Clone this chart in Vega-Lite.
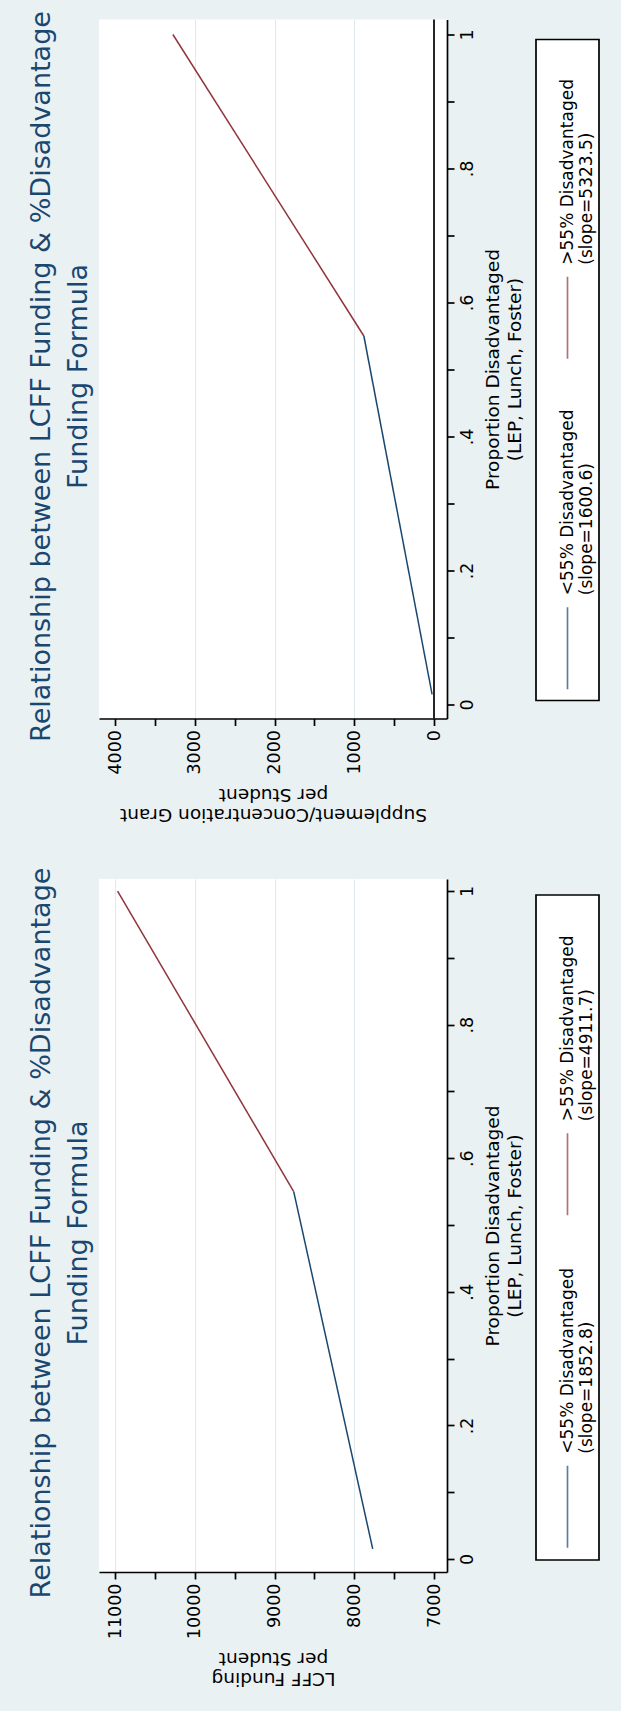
{
  "$schema": "https://vega.github.io/schema/vega-lite/v6.json",
  "background": "#EAF1F3",
  "padding": {"left": 27, "top": 10.5, "right": 21, "bottom": 46},
  "config": {
    "font": "DejaVu Sans",
    "view": {"stroke": null},
    "axis": {
      "labelColor": "black",
      "labelFontSize": 17.5,
      "labelOverlap": false,
      "labelFlush": false,
      "labelBound": false,
      "tickColor": "black",
      "tickWidth": 1.7,
      "tickSize": 7,
      "domainColor": "black",
      "domainWidth": 1.7,
      "titleColor": "black",
      "titleFontSize": 18.5,
      "titleFontWeight": "normal"
    },
    "title": {"color": "#1a476f", "fontWeight": "normal", "fontSize": 27}
  },
  "datasets": {
    "grant": [
      {"group": "<55% Disadvantaged", "share": 0.015, "amount": 24},
      {"group": "<55% Disadvantaged", "share": 0.55, "amount": 880},
      {"group": ">55% Disadvantaged", "share": 0.55, "amount": 880},
      {"group": ">55% Disadvantaged", "share": 1.0, "amount": 3276}
    ],
    "lcff": [
      {"group": "<55% Disadvantaged", "share": 0.015, "amount": 7769},
      {"group": "<55% Disadvantaged", "share": 0.55, "amount": 8760},
      {"group": ">55% Disadvantaged", "share": 0.55, "amount": 8760},
      {"group": ">55% Disadvantaged", "share": 1.0, "amount": 10970}
    ],
    "grantKey": [
      {"group": ">55% Disadvantaged", "label": ">55% Disadvantaged\n(slope=5323.5)"},
      {"group": "<55% Disadvantaged", "label": "<55% Disadvantaged\n(slope=1600.6)"}
    ],
    "lcffKey": [
      {"group": ">55% Disadvantaged", "label": ">55% Disadvantaged\n(slope=4911.7)"},
      {"group": "<55% Disadvantaged", "label": "<55% Disadvantaged\n(slope=1852.8)"}
    ]
  },
  "spacing": 43.5,
  "vconcat": [
    {
      "spacing": 11,
      "hconcat": [
        {
          "width": 348,
          "height": 699,
          "view": {"fill": "white", "stroke": null},
          "title": {
            "text": ["Relationship between LCFF Funding & %Disadvantage", "Funding Formula"],
            "orient": "left",
            "anchor": "middle",
            "frame": "group",
            "lineHeight": 37,
            "offset": 6,
            "dx": -7.5
          },
          "layer": [
            {
              "data": {"values": [{}]},
              "mark": {"type": "rule", "color": "black", "strokeWidth": 1.7},
              "encoding": {"x": {"datum": 0, "type": "quantitative"}}
            },
            {
              "data": {"name": "grant"},
              "mark": {"type": "line", "strokeWidth": 1.5},
              "encoding": {
                "x": {
                  "field": "amount",
                  "type": "quantitative",
                  "scale": {"domain": [-163, 4203], "reverse": true, "nice": false, "zero": false},
                  "axis": {
                    "orient": "bottom",
                    "values": [0, 500, 1000, 1500, 2000, 2500, 3000, 3500, 4000],
                    "labelExpr": "datum.value % 1000 === 0 ? format(datum.value, 'd') : ''",
                    "labelAngle": -90,
                    "labelAlign": "right",
                    "labelBaseline": "middle",
                    "labelPadding": 4,
                    "grid": true,
                    "gridColor": "#e2e9ec",
                    "gridWidth": 1,
                    "gridOpacity": {"condition": {"test": "datum.value % 1000 === 0 && datum.value > 0 && datum.value < 4000", "value": 1}, "value": 0},
                    "title": ["Supplement/Concentration Grant", "per Student"],
                    "titleAngle": 180,
                    "titleBaseline": "bottom",
                    "titleLineHeight": 20,
                    "titlePadding": 30
                  }
                },
                "y": {
                  "field": "share",
                  "type": "quantitative",
                  "scale": {"domain": [-0.0209, 1.0224], "nice": false, "zero": false},
                  "axis": {
                    "orient": "right",
                    "values": [0, 0.1, 0.2, 0.3, 0.4, 0.5, 0.6, 0.7, 0.8, 0.9, 1],
                    "labelExpr": "round(datum.value * 10) % 2 === 0 ? (datum.value === 0 ? '0' : datum.value === 1 ? '1' : replace(format(datum.value, '.1f'), '0.', '.')) : ''",
                    "labelAngle": -90,
                    "labelAlign": "center",
                    "labelBaseline": "top",
                    "labelPadding": 4,
                    "grid": false,
                    "title": ["Proportion Disadvantaged", "(LEP, Lunch, Foster)"],
                    "titleAngle": -90,
                    "titleBaseline": "top",
                    "titleLineHeight": 22,
                    "titlePadding": -14
                  }
                },
                "color": {
                  "field": "group",
                  "type": "nominal",
                  "scale": {"domain": ["<55% Disadvantaged", ">55% Disadvantaged"], "range": ["#1a476f", "#90353b"]},
                  "legend": null
                }
              }
            }
          ]
        },
        {
          "spacing": 18,
          "vconcat": [
            {"width": 63, "height": 1, "data": {"values": []}, "mark": "point"},
            {
              "width": 63,
              "height": 661,
              "view": {"fill": "white", "stroke": "black", "strokeWidth": 1.7},
              "data": {"name": "grantKey"},
              "encoding": {
                "y": {
                  "field": "group",
                  "type": "nominal",
                  "sort": [">55% Disadvantaged", "<55% Disadvantaged"],
                  "scale": {"type": "band", "paddingInner": 0, "paddingOuter": 0},
                  "axis": null
                }
              },
              "layer": [
                {
                  "mark": {"type": "tick", "orient": "vertical", "size": 82, "thickness": 1.7, "yOffset": 113},
                  "encoding": {
                    "color": {
                      "field": "group",
                      "type": "nominal",
                      "scale": {"domain": ["<55% Disadvantaged", ">55% Disadvantaged"], "range": ["#1a476f", "#90353b"]},
                      "legend": null
                    }
                  }
                },
                {
                  "mark": {"type": "text", "angle": 270, "align": "left", "baseline": "middle", "lineBreak": "\n", "fontSize": 17, "lineHeight": 19, "yOffset": 60, "color": "black"},
                  "encoding": {"text": {"field": "label", "type": "nominal"}}
                }
              ]
            }
          ]
        }
      ]
    },
    {
      "spacing": 11,
      "hconcat": [
        {
          "width": 348,
          "height": 693,
          "view": {"fill": "white", "stroke": null},
          "title": {
            "text": ["Relationship between LCFF Funding & %Disadvantage", "Funding Formula"],
            "orient": "left",
            "anchor": "middle",
            "frame": "group",
            "lineHeight": 37,
            "offset": 6,
            "dx": -7.5
          },
          "data": {"name": "lcff"},
          "mark": {"type": "line", "strokeWidth": 1.5},
          "encoding": {
            "x": {
              "field": "amount",
              "type": "quantitative",
              "scale": {"domain": [6837, 11203], "reverse": true, "nice": false, "zero": false},
              "axis": {
                "orient": "bottom",
                "values": [7000, 7500, 8000, 8500, 9000, 9500, 10000, 10500, 11000],
                "labelExpr": "datum.value % 1000 === 0 ? format(datum.value, 'd') : ''",
                "labelAngle": -90,
                "labelAlign": "right",
                "labelBaseline": "middle",
                "labelPadding": 4,
                "grid": true,
                "gridColor": "#e2e9ec",
                "gridWidth": 1,
                "gridOpacity": {"condition": {"test": "datum.value % 1000 === 0 && datum.value > 7000", "value": 1}, "value": 0},
                "title": ["LCFF Funding", "per Student"],
                "titleAngle": 180,
                "titleBaseline": "bottom",
                "titleLineHeight": 20,
                "titlePadding": 30
              }
            },
            "y": {
              "field": "share",
              "type": "quantitative",
              "scale": {"domain": [-0.0195, 1.018], "nice": false, "zero": false},
              "axis": {
                "orient": "right",
                "values": [0, 0.1, 0.2, 0.3, 0.4, 0.5, 0.6, 0.7, 0.8, 0.9, 1],
                "labelExpr": "round(datum.value * 10) % 2 === 0 ? (datum.value === 0 ? '0' : datum.value === 1 ? '1' : replace(format(datum.value, '.1f'), '0.', '.')) : ''",
                "labelAngle": -90,
                "labelAlign": "center",
                "labelBaseline": "top",
                "labelPadding": 4,
                "grid": false,
                "title": ["Proportion Disadvantaged", "(LEP, Lunch, Foster)"],
                "titleAngle": -90,
                "titleBaseline": "top",
                "titleLineHeight": 22,
                "titlePadding": -14
              }
            },
            "color": {
              "field": "group",
              "type": "nominal",
              "scale": {"domain": ["<55% Disadvantaged", ">55% Disadvantaged"], "range": ["#1a476f", "#90353b"]},
              "legend": null
            }
          }
        },
        {
          "spacing": 14,
          "vconcat": [
            {"width": 63, "height": 1, "data": {"values": []}, "mark": "point"},
            {
              "width": 63,
              "height": 665,
              "view": {"fill": "white", "stroke": "black", "strokeWidth": 1.7},
              "data": {"name": "lcffKey"},
              "encoding": {
                "y": {
                  "field": "group",
                  "type": "nominal",
                  "sort": [">55% Disadvantaged", "<55% Disadvantaged"],
                  "scale": {"type": "band", "paddingInner": 0, "paddingOuter": 0},
                  "axis": null
                }
              },
              "layer": [
                {
                  "mark": {"type": "tick", "orient": "vertical", "size": 82, "thickness": 1.7, "yOffset": 113},
                  "encoding": {
                    "color": {
                      "field": "group",
                      "type": "nominal",
                      "scale": {"domain": ["<55% Disadvantaged", ">55% Disadvantaged"], "range": ["#1a476f", "#90353b"]},
                      "legend": null
                    }
                  }
                },
                {
                  "mark": {"type": "text", "angle": 270, "align": "left", "baseline": "middle", "lineBreak": "\n", "fontSize": 17, "lineHeight": 19, "yOffset": 60, "color": "black"},
                  "encoding": {"text": {"field": "label", "type": "nominal"}}
                }
              ]
            }
          ]
        }
      ]
    }
  ]
}
